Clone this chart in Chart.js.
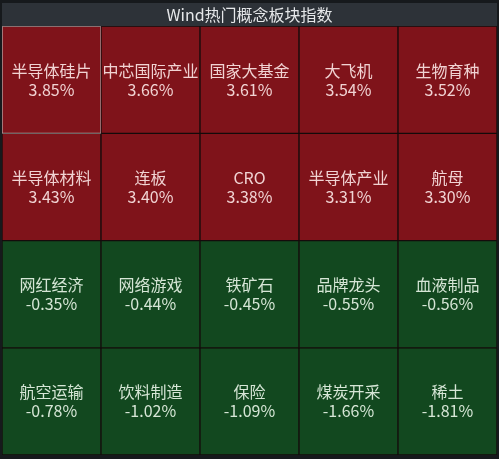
<!DOCTYPE html>
<html>
<head>
<meta charset="utf-8">
<script src="https://cdn.jsdelivr.net/npm/chart.js@4/dist/chart.umd.min.js"></script>
<style>
  html, body { margin: 0; padding: 0; background: #16191c; }
  #wrap { width: 499px; height: 459px; }
</style>
</head>
<body>
<div id="wrap"><canvas id="board"></canvas></div>
<script>
const titleText = "Wind热门概念板块指数";
const columnCount = 5;
const sectorNames = [
  "半导体硅片", "中芯国际产业", "国家大基金", "大飞机", "生物育种",
  "半导体材料", "连板", "CRO", "半导体产业", "航母",
  "网红经济", "网络游戏", "铁矿石", "品牌龙头", "血液制品",
  "航空运输", "饮料制造", "保险", "煤炭开采", "稀土"
];
const sectorChanges = [
  3.85, 3.66, 3.61, 3.54, 3.52,
  3.43, 3.40, 3.38, 3.31, 3.30,
  -0.35, -0.44, -0.45, -0.55, -0.56,
  -0.78, -1.02, -1.09, -1.66, -1.81
];
const selectedIndex = 0;

const upColor = "#7f131a";
const downColor = "#12481f";

const rowCount = sectorNames.length / columnCount;
const datasets = [];
for (let r = 0; r < rowCount; r++) {
  const changes = sectorChanges.slice(r * columnCount, (r + 1) * columnCount);
  datasets.push({
    label: "row" + r,
    data: changes.map(() => 1),
    changes: changes,
    names: sectorNames.slice(r * columnCount, (r + 1) * columnCount),
    backgroundColor: changes.map(v => v >= 0 ? upColor : downColor),
    borderColor: changes.map((v, c) => r * columnCount + c === selectedIndex ? "#b9a9a9" : "#140b0b"),
    borderWidth: 1,
    borderSkipped: false,
    categoryPercentage: 1,
    barPercentage: 1
  });
}

const titleBar = {
  id: "titleBar",
  beforeDraw(chart) {
    const ctx = chart.ctx;
    const area = chart.chartArea;
    ctx.save();
    ctx.fillStyle = "#2d3238";
    ctx.fillRect(area.left, 3, area.right - area.left, area.top - 3);
    ctx.restore();
  }
};

const cellLabels = {
  id: "cellLabels",
  afterDatasetsDraw(chart) {
    const ctx = chart.ctx;
    ctx.save();
    ctx.textAlign = "center";
    ctx.textBaseline = "middle";
    ctx.font = "16px 'Noto Sans CJK SC', 'Noto Sans', sans-serif";
    chart.data.datasets.forEach((ds, i) => {
      chart.getDatasetMeta(i).data.forEach((bar, j) => {
        const cy = (bar.y + bar.base) / 2;
        const v = ds.changes[j];
        ctx.fillStyle = v >= 0 ? "#f1d3d3" : "#d6e6d6";
        ctx.fillText(ds.names[j], bar.x, cy - 9);
        ctx.fillText(v.toFixed(2) + "%", bar.x, cy + 10);
      });
    });
    ctx.restore();
  }
};

new Chart(document.getElementById("board").getContext("2d"), {
  type: "bar",
  data: {
    labels: Array.from({ length: columnCount }, (_, i) => `${i + 1}`),
    datasets: datasets
  },
  options: {
    responsive: true,
    maintainAspectRatio: false,
    animation: false,
    layout: { padding: { top: 3, left: 2, right: 2, bottom: 4 } },
    scales: {
      x: { stacked: true, display: false },
      y: { stacked: true, display: false, reverse: true, min: 0, max: rowCount }
    },
    plugins: {
      legend: { display: false },
      tooltip: { enabled: false },
      title: {
        display: true,
        text: titleText,
        color: "#e6e8ea",
        font: { size: 16, weight: "normal", family: "'Noto Sans CJK SC', 'Noto Sans', sans-serif" },
        padding: { top: 2, bottom: 2 }
      }
    }
  },
  plugins: [titleBar, cellLabels]
});
</script>
</body>
</html>
